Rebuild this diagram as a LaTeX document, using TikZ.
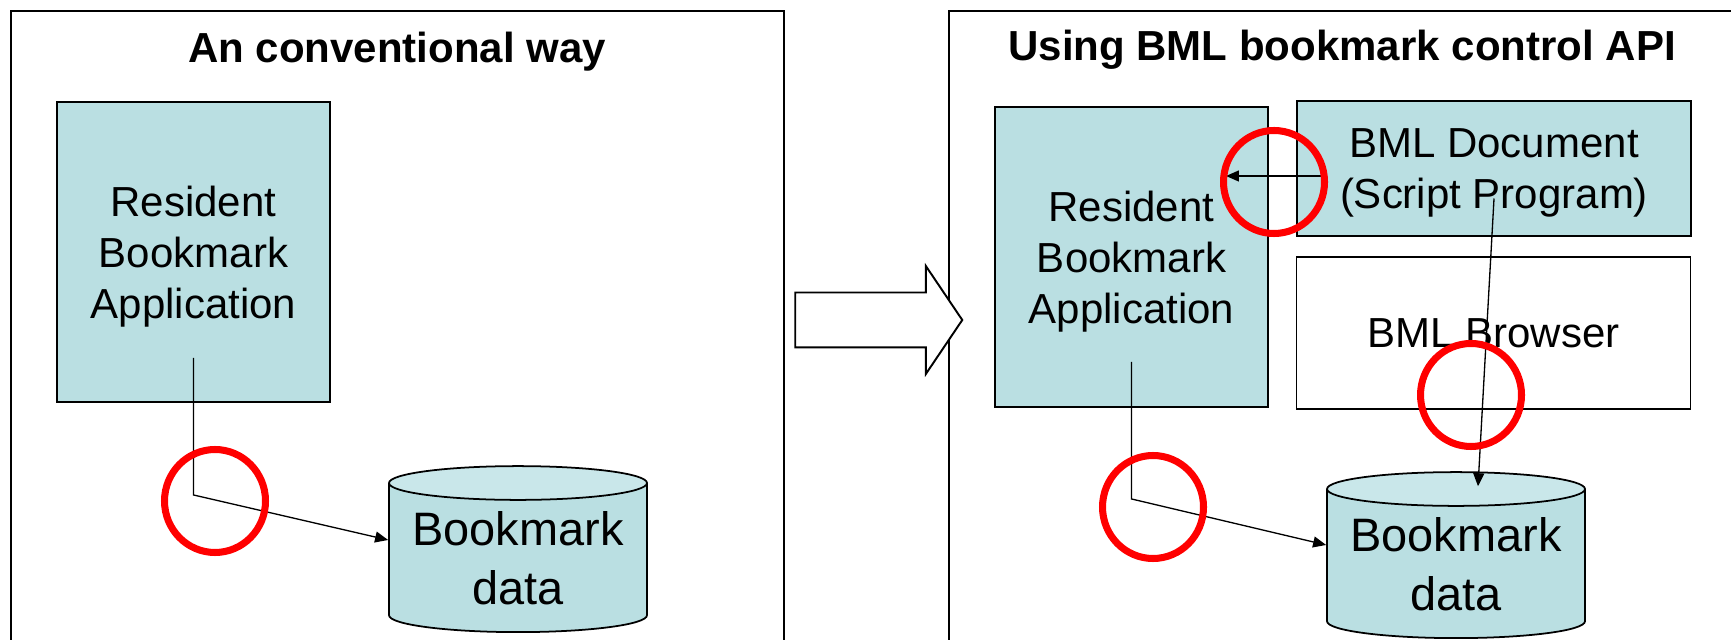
\documentclass[tikz,border=0pt]{standalone}
\usepackage{fontspec}
\setmainfont{Liberation Sans}
\usetikzlibrary{arrows.meta,calc,positioning,shapes.geometric,shapes.arrows}
\definecolor{boxteal}{RGB}{186,223,226}
\definecolor{capteal}{RGB}{201,231,234}

\begin{document}
\begin{tikzpicture}[
  panel/.style={draw,line width=1.1pt},
  heading/.style={font=\fontsize{23.9}{29}\selectfont\bfseries},
  body/.style={font=\fontsize{23.9}{29}\selectfont,align=center,text depth=0pt},
  appbox/.style={body,draw,line width=1.1pt,fill=boxteal,minimum width=5.46cm,minimum height=6cm,inner sep=0pt},
  wide/.style={body,draw,line width=1.1pt,minimum width=7.88cm,inner sep=0pt},
  store/.style={cylinder,shape border rotate=90,draw,line width=1pt,aspect=0.16,
    minimum height=3.32cm,minimum width=5.16cm,inner sep=0pt,
    cylinder uses custom fill,cylinder body fill=boxteal,cylinder end fill=capteal,
    align=center,font=\fontsize{26.7}{33.5}\selectfont},
  ring/.style={ellipse,draw=red,line width=4pt,minimum width=2.02cm,minimum height=2.06cm,inner sep=0pt},
  conn/.style={line width=0.75pt,-{Triangle[length=2.6mm,width=2.2mm]}},
]
\path[use as bounding box,clip] (0,0) rectangle (34.62,-12.8);
% both frames run on past the lower edge
\draw[panel] (0.22,-13.5) rectangle (15.68,-0.22);
\draw[panel] (18.98,-13.5) rectangle (35.5,-0.22);

\node[heading] (ltitle) at (7.94,-1.03) {An conventional way};
\node[heading] (rtitle) at (26.84,-0.99) {Using BML bookmark control API};

% left frame
\node[appbox] (lapp) at (3.87,-5.04) {Resident\\Bookmark\\Application};
\node[store] (ldata) at (10.36,-11.16) {Bookmark\\data};

% right frame
\node[appbox] (rapp) at (22.63,-5.14) {Resident\\Bookmark\\Application};
\node[wide,fill=boxteal,minimum height=2.7cm] (doc) at (29.88,-3.37) {BML Document\\(Script Program)};
\node[wide,fill=white,minimum height=3.04cm] (browser) at (29.87,-6.66) {BML Browser};
\node[store] (rdata) at (29.12,-11.28) {Bookmark\\data};

% big hollow arrow between the frames
\node[single arrow,draw,line width=1.1pt,fill=white,inner xsep=0pt,inner ysep=0.53cm,
  minimum height=3.34cm,single arrow head extend=0.53cm,single arrow tip angle=112] (goarrow) at (17.39,-6.4) {};

\coordinate (lsrc) at ($(lapp.south)+(0,0.9)$);
\coordinate (lbend) at ($(lapp.south)+(0,-1.84)$);
\draw[conn] (lsrc) -- (lbend) -- ($(ldata.west)+(0,0.36)$);

\coordinate (rsrc) at ($(rapp.south)+(0,0.92)$);
\coordinate (rbend) at ($(rapp.south)+(0,-1.82)$);
\draw[conn] (rsrc) -- (rbend) -- ($(rdata.west)+(0,0.38)$);

\coordinate (dsrc) at ($(doc.west)+(0.52,-0.15)$);
\coordinate (dtip) at ($(rapp.east)+(-0.86,0)$);
\draw[conn] (dsrc) -- (dsrc -| dtip);

\coordinate (ssrc) at ($(doc.center)+(0,-0.6)$);
\draw[conn] (ssrc) -- ($(rdata.north)+(0.44,-0.3)$);

% red marks
\node[ring] (ring1) at (4.3,-10.02) {};
\node[ring] (ring2) at (25.48,-3.64) {};
\node[ring] (ring3) at (29.42,-7.9) {};
\node[ring] (ring4) at (23.06,-10.14) {};
\end{tikzpicture}
\end{document}
